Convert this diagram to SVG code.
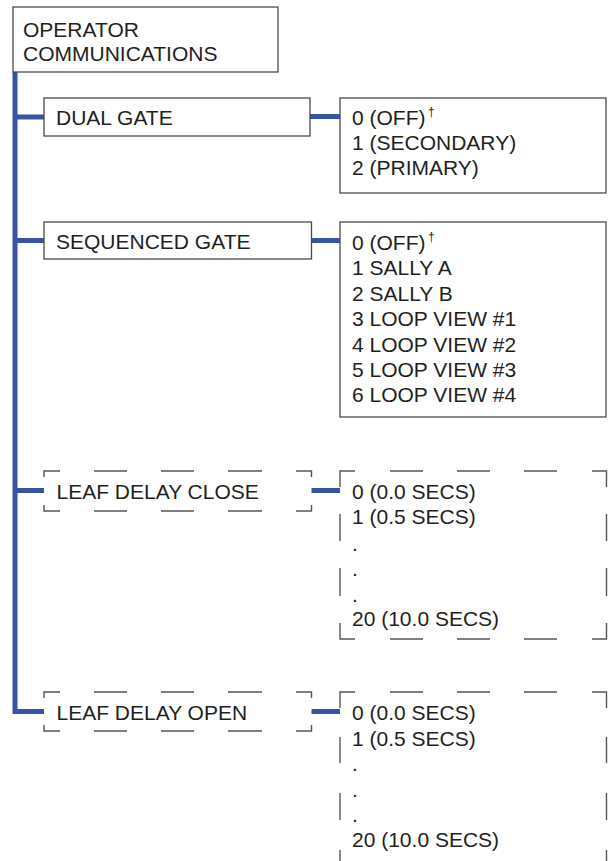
<svg xmlns="http://www.w3.org/2000/svg" width="608" height="861" viewBox="0 0 608 861">
  <style>
    text { font-family: "Liberation Sans", Arial, sans-serif; font-size: 21px; fill: #231f20; }
    .dag { font-size: 12px; }
    .box { fill: #fff; stroke: #4a4a4a; stroke-width: 1.3; }
    .dash { fill: none; stroke: #555; stroke-width: 1.4; }
    .conn { fill: none; stroke: #3853a4; stroke-width: 5; }
  </style>
  <rect width="608" height="861" fill="#fff"/>
  <g id="connectors">
    <path class="conn" d="M15,72 V711.5 H44" stroke-width="4.5"/>
    <line class="conn" x1="15" y1="117" x2="44" y2="117"/>
    <line class="conn" x1="15" y1="240.5" x2="44" y2="240.5"/>
    <line class="conn" x1="15" y1="490.5" x2="44" y2="490.5"/>
    <line class="conn" x1="310" y1="116.5" x2="340" y2="116.5"/>
    <line class="conn" x1="311.5" y1="240.5" x2="340" y2="240.5"/>
    <line class="conn" x1="311.5" y1="490.5" x2="340" y2="490.5"/>
    <line class="conn" x1="311.5" y1="711.5" x2="340" y2="711.5"/>
  </g>
  <g id="operator-communications">
    <rect class="box" x="13" y="7" width="265" height="65"/>
    <text x="23" y="37">OPERATOR</text>
    <text x="23" y="61">COMMUNICATIONS</text>
  </g>
  <g id="dual-gate">
    <rect class="box" x="44" y="98" width="266" height="38"/>
    <text x="56" y="125">DUAL GATE</text>
  </g>
  <g id="dual-gate-options">
    <rect class="box" x="340" y="98" width="266" height="95"/>
    <text x="352" y="124.5">0 (OFF)</text>
    <text class="dag" x="428" y="116">†</text>
    <text x="352" y="150">1 (SECONDARY)</text>
    <text x="352" y="175">2 (PRIMARY)</text>
  </g>
  <g id="sequenced-gate">
    <rect class="box" x="44" y="222" width="267.5" height="37"/>
    <text x="56" y="249">SEQUENCED GATE</text>
  </g>
  <g id="sequenced-gate-options">
    <rect class="box" x="340" y="222" width="266" height="195"/>
    <text x="352" y="250">0 (OFF)</text>
    <text class="dag" x="428" y="241">†</text>
    <text x="352" y="275">1 SALLY A</text>
    <text x="352" y="300.5">2 SALLY B</text>
    <text x="352" y="326">3 LOOP VIEW #1</text>
    <text x="352" y="351.5">4 LOOP VIEW #2</text>
    <text x="352" y="376.5">5 LOOP VIEW #3</text>
    <text x="352" y="402">6 LOOP VIEW #4</text>
  </g>
  <g id="leaf-delay-close">
    <path class="dash" d="M44,477 V471 H60 M94,471 H127 M161,471 H194 M228,471 H262 M296,471 H311.5 V477 M311.5,505 V511 H296 M262,511 H228 M194,511 H161 M127,511 H94 M60,511 H44 V505"/>
    <text x="56.5" y="499">LEAF DELAY CLOSE</text>
  </g>
  <g id="leaf-delay-close-options">
    <path class="dash" d="M340,487 V471 H355 M390,471 H423 M457,471 H490 M524,471 H557 M592,471 H606.5 V487 M606.5,514 V541 M606.5,568 V596 M606.5,623 V639 H592 M557,639 H524 M490,639 H457 M423,639 H390 M355,639 H340 V623 M340,596 V568 M340,541 V514"/>
    <text x="352" y="499">0 (0.0 SECS)</text>
    <text x="352" y="524">1 (0.5 SECS)</text>
    <text x="352" y="551">.</text>
    <text x="352" y="576">.</text>
    <text x="352" y="601.5">.</text>
    <text x="352" y="626">20 (10.0 SECS)</text>
  </g>
  <g id="leaf-delay-open">
    <path class="dash" d="M44,698 V692 H60 M94,692 H127 M161,692 H194 M228,692 H262 M296,692 H311.5 V698 M311.5,725 V731 H296 M262,731 H228 M194,731 H161 M127,731 H94 M60,731 H44 V725"/>
    <text x="56.5" y="720">LEAF DELAY OPEN</text>
  </g>
  <g id="leaf-delay-open-options">
    <path class="dash" d="M340,708 V692 H355 M390,692 H423 M457,692 H490 M524,692 H557 M592,692 H606.5 V708 M606.5,737 V763 M606.5,793 V820 M606.5,850 V861 M340,850 V861 M340,820 V793 M340,763 V737"/>
    <text x="352" y="720">0 (0.0 SECS)</text>
    <text x="352" y="745.5">1 (0.5 SECS)</text>
    <text x="352" y="771">.</text>
    <text x="352" y="796.5">.</text>
    <text x="352" y="822">.</text>
    <text x="352" y="846.5">20 (10.0 SECS)</text>
  </g>
</svg>
